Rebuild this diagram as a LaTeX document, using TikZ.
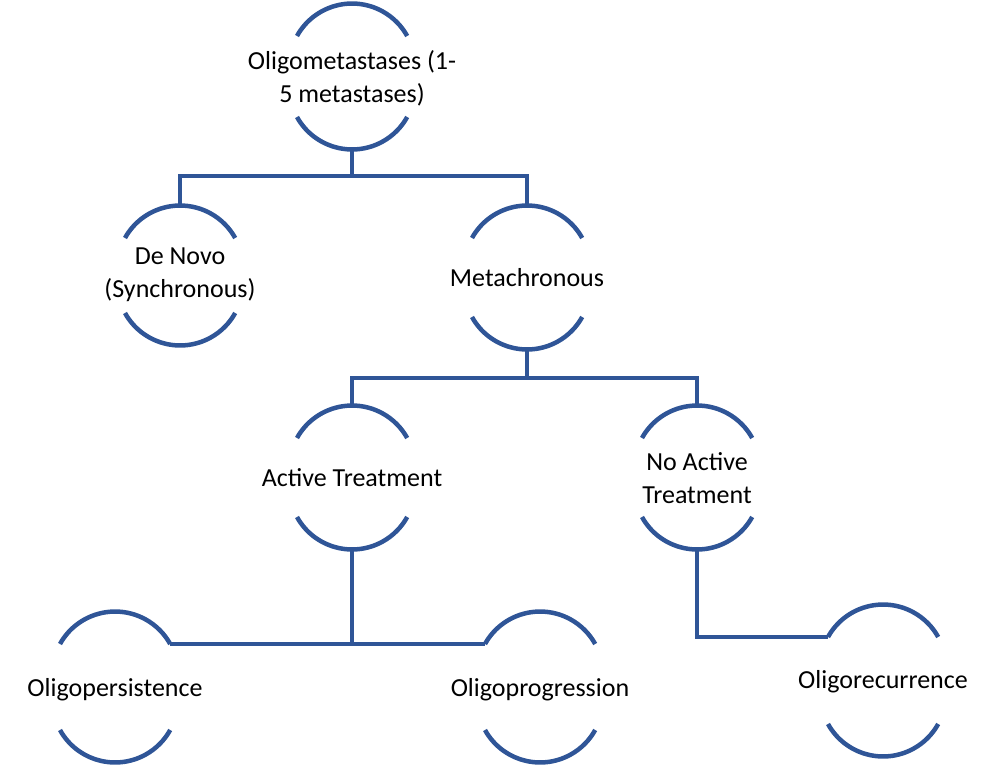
\documentclass[tikz,border=0pt]{standalone}
\usepackage{fontspec}
\setmainfont{Carlito}
\definecolor{arcblue}{RGB}{47,85,151}
\newcommand{\arcbox}[6]{%
  % name, cx, peak, trough, text y, text
  \draw[conn] (#2-55,#3+32) coordinate (#1TL) arc[start angle=209,end angle=331,radius=63] coordinate (#1TR);
  \draw[conn] (#2-55,#4-32) coordinate (#1BL) arc[start angle=151,end angle=29,radius=63] coordinate (#1BR);
  \coordinate (#1T) at (#2,#3);
  \coordinate (#1B) at (#2,#4);
  \node[lbl] (#1) at (#2,#5) {#6};
}
\begin{document}
\begin{tikzpicture}[x=1pt,y=-1pt,
  conn/.style={draw=arcblue,line width=4.5pt},
  lbl/.style={align=center,font=\fontsize{26}{33}\selectfont,inner sep=0pt}]
\useasboundingbox (0,0) rectangle (993,765);
\arcbox{om}{352}{4}{149}{78}{Oligometastases (1-\\5 metastases)}
\arcbox{dn}{180}{206}{345}{275}{De Novo\\(Synchronous)}
\arcbox{mc}{527}{206}{349}{278}{Metachronous}
\arcbox{at}{352}{406}{549}{478}{Active Treatment}
\arcbox{nat}{697}{406}{549}{478}{No Active\\Treatment}
\arcbox{op}{115}{612}{762}{690}{Oligopersistence}
\arcbox{opr}{540}{612}{762}{690}{Oligoprogression}
\arcbox{orc}{883}{605}{756}{682}{Oligorecurrence}
\draw[conn] (omB) -- (352,176) -| (dnT);
\draw[conn] (352,176) -| (mcT);
\draw[conn] (mcB) -- (527,378) -| (atT);
\draw[conn] (527,378) -| (natT);
\draw[conn] (atB) |- (opTR);
\draw[conn] (atB |- opTR) -- (oprTL);
\draw[conn] (natB) |- (orcTL);
\end{tikzpicture}
\end{document}
